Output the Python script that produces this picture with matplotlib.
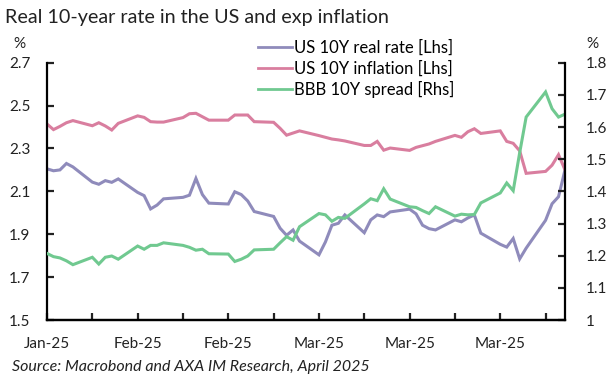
import matplotlib
matplotlib.use("Agg")
import matplotlib.pyplot as plt
from matplotlib.lines import Line2D
import pandas as pd

plt.rcParams['font.family'] = ['Lato', 'DejaVu Sans']

# business days, 20 Jan 2025 -> 10 Apr 2025
dates = pd.bdate_range('2025-01-20', '2025-04-10')

real_rate = [2.205, 2.196, 2.200, 2.230, 2.214,
             2.143, 2.133, 2.150, 2.142, 2.158,
             2.095, 2.080, 2.018, 2.036, 2.065,
             2.072, 2.082, 2.160, 2.085, 2.045,
             2.041, 2.098, 2.085, 2.055, 2.006,
             1.983, 1.928, 1.895, 1.920, 1.868,
             1.804, 1.864, 1.942, 1.951, 1.990,
             1.907, 1.967, 1.990, 1.982, 2.004,
             2.017, 1.995, 1.942, 1.926, 1.920,
             1.967, 1.958, 1.976, 1.990, 1.905,
             1.853, 1.840, 1.880, 1.785, 1.835,
             1.965, 2.042, 2.075, 2.200]

inflation = [2.414, 2.388, 2.403, 2.420, 2.430,
             2.406, 2.420, 2.405, 2.386, 2.417,
             2.452, 2.445, 2.425, 2.423, 2.423,
             2.444, 2.462, 2.464, 2.448, 2.432,
             2.432, 2.456, 2.456, 2.456, 2.425,
             2.422, 2.394, 2.362, 2.372, 2.382,
             2.360, 2.352, 2.344, 2.340, 2.335,
             2.314, 2.314, 2.333, 2.292, 2.302,
             2.291, 2.305, 2.313, 2.321, 2.333,
             2.361, 2.352, 2.378, 2.392, 2.370,
             2.382, 2.333, 2.324, 2.289, 2.184,
             2.193, 2.222, 2.271, 2.200]

bbb_spread = [1.207, 1.197, 1.193, 1.184, 1.172,
              1.195, 1.174, 1.195, 1.199, 1.189,
              1.230, 1.220, 1.232, 1.232, 1.240,
              1.232, 1.226, 1.217, 1.220, 1.206,
              1.205, 1.182, 1.189, 1.199, 1.218,
              1.220, 1.240, 1.259, 1.248, 1.290,
              1.331, 1.327, 1.307, 1.319, 1.316,
              1.361, 1.377, 1.371, 1.408, 1.376,
              1.352, 1.350, 1.340, 1.331, 1.352,
              1.323, 1.329, 1.327, 1.328, 1.364,
              1.395, 1.426, 1.402, 1.520, 1.631,
              1.709, 1.657, 1.631, 1.640]

c_real = '#8f8bbb'
c_infl = '#d97e9f'
c_bbb = '#70c990'

fig = plt.figure(figsize=(6.14, 3.79), dpi=100)
ax = fig.add_axes([47/614, 1-320/379, (565-47)/614, (320-62.7)/379])
ax2 = ax.twinx()

ax.plot(dates, real_rate, color=c_real, lw=2.2, solid_joinstyle='miter')
ax.plot(dates, inflation, color=c_infl, lw=2.2, solid_joinstyle='miter')
ax2.plot(dates, bbb_spread, color=c_bbb, lw=2.2, solid_joinstyle='miter')

ax.set_ylim(1.5, 2.7)
ax.set_yticks([1.5, 1.7, 1.9, 2.1, 2.3, 2.5, 2.7])
ax.set_yticklabels(['1.5', '1.7', '1.9', '2.1', '2.3', '2.5', '2.7'])
ax2.set_ylim(1.0, 1.8)
ax2.set_yticks([1.0, 1.1, 1.2, 1.3, 1.4, 1.5, 1.6, 1.7, 1.8])
ax2.set_yticklabels(['1', '1.1', '1.2', '1.3', '1.4', '1.5', '1.6', '1.7', '1.8'])

tick_days = pd.date_range('2025-01-20', '2025-04-10', freq='7D')
ax.set_xlim(pd.Timestamp('2025-01-20'), pd.Timestamp('2025-04-10'))
ax.set_xticks(tick_days)
ax.set_xticklabels([d.strftime('%b-%y') if i % 2 == 0 else '' for i, d in enumerate(tick_days)])

for a in (ax, ax2):
    a.spines['top'].set_visible(False)
    for s in ('left', 'right', 'bottom'):
        a.spines[s].set_linewidth(1.6)
        a.spines[s].set_color('black')
    a.tick_params(direction='in', length=5, width=1.6, labelsize=11, colors='#222222')
ax.tick_params(axis='y', pad=12)
ax2.tick_params(axis='y', pad=15)
ax.tick_params(axis='x', pad=12)
ax.spines['right'].set_visible(False)
ax2.spines['left'].set_visible(False)

fig.text(5/614, 1-18/379, 'Real 10-year rate in the US and exp inflation',
         fontsize=14.2, va='center', ha='left', color='#222222')
fig.text(19/614, 1-44/379, '%', fontsize=11, ha='center', va='center', color='#222222')
fig.text(592/614, 1-44/379, '%', fontsize=11, ha='center', va='center', color='#222222')
fig.text(12/614, 1-367/379, 'Source: Macrobond and AXA IM Research, April 2025',
         fontsize=11.5, style='italic', ha='left', va='center', color='#222222')

handles = [Line2D([], [], color=c_real, lw=2),
           Line2D([], [], color=c_infl, lw=2),
           Line2D([], [], color=c_bbb, lw=2)]
labels = ['US 10Y real rate [Lhs]', 'US 10Y inflation [Lhs]', 'BBB 10Y spread [Rhs]']
fig.legend(handles, labels, loc='upper left', bbox_to_anchor=(258/614, 1-39.5/379),
           frameon=False, fontsize=12, handlelength=2.05, handletextpad=0.1,
           labelspacing=0.27, borderpad=0, borderaxespad=0)

fig.savefig('out.png', dpi=100)
